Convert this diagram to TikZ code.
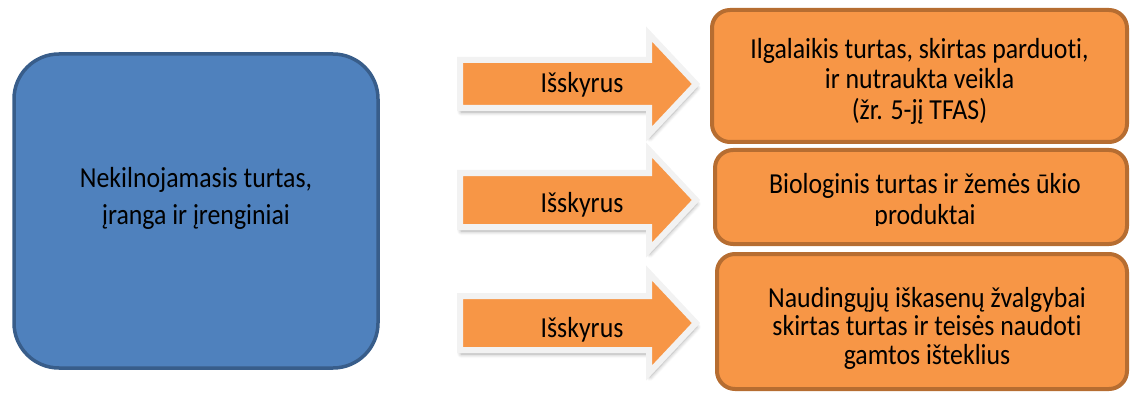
\documentclass[tikz,border=0pt]{standalone}
\usepackage{fontspec}
\setmainfont{Carlito}[FakeStretch=0.89, Ligatures=NoCommon]
\usetikzlibrary{shadows.blur,calc}

\definecolor{boxfill}{HTML}{F79646}
\definecolor{boxedge}{HTML}{B66D31}
\definecolor{assetfill}{HTML}{4F81BD}
\definecolor{assetedge}{HTML}{385D8A}
\definecolor{arrowedge}{HTML}{F2F2F2}

\tikzset{
  txt/.style={font=\fontsize{29}{30.5}\selectfont, align=center, inner sep=0pt, text=black},
  itembox/.style={rectangle, draw=boxedge, fill=boxfill, line width=4pt,
    rounded corners=18pt, inner sep=0pt},
  assetbox/.style={rectangle, draw=assetedge, fill=assetfill, line width=3.5pt,
    rounded corners=45pt, inner sep=0pt},
  exclarrow/.style={fill=boxfill, draw=arrowedge, line width=6pt, line join=miter,
    blur shadow={shadow xshift=1pt, shadow yshift=-4pt, shadow blur radius=4pt,
      shadow blur steps=6, shadow opacity=35}},
}

\begin{document}
\begin{tikzpicture}[x=1pt,y=-1pt]
\useasboundingbox (0,0) rectangle (1130,393);

% main asset class
\node[assetbox, minimum width=364pt, minimum height=314pt] (ppe) at (196,211) {};
\node[txt, font=\fontsize{29}{36.5}\selectfont] (ppetext) at ($(ppe.center)+(0,-12.5)$)
  {Nekilnojamasis turtas,\\ įranga ir įrenginiai};

% "except" arrows
\foreach \c/\h/\b/\n in {84/24/93/exa, 200/27/212/exb, 323/27/337/exc}{
  \draw[exclarrow] (460,\c-\h) -- (649,\c-\h) -- (649,\c-50) -- (696,\c)
    -- (649,\c+50) -- (649,\c+\h) -- (460,\c+\h) -- cycle;
  \node[txt, anchor=base] (\n) at (582,\b) {Išskyrus};
}

% excluded items
\node[itembox, minimum width=415pt, minimum height=132pt] (held) at (919.5,76) {};
\node[txt] (heldtext) at ($(held.center)+(0,5)$)
  {Ilgalaikis turtas, skirtas parduoti,\\ ir nutraukta veikla\\ (žr. 5-jį TFAS)};

\node[itembox, minimum width=412pt, minimum height=94pt] (bio) at (921,197) {};
\begin{scope}
  \clip (700,140) rectangle (1130,225.5);
  \node[txt] (biotext) at ($(bio.center)+(4,4.5)$)
    {Biologinis turtas ir žemės ūkio\\ produktai};
\end{scope}

\node[itembox, minimum width=410pt, minimum height=135pt] (min) at (922,321.5) {};
\node[txt, font=\fontsize{29}{28.5}\selectfont] (mintext) at ($(min.center)+(5,6.5)$)
  {Naudingųjų iškasenų žvalgybai\\ skirtas turtas ir teisės naudoti\\ gamtos išteklius};
\end{tikzpicture}
\end{document}
